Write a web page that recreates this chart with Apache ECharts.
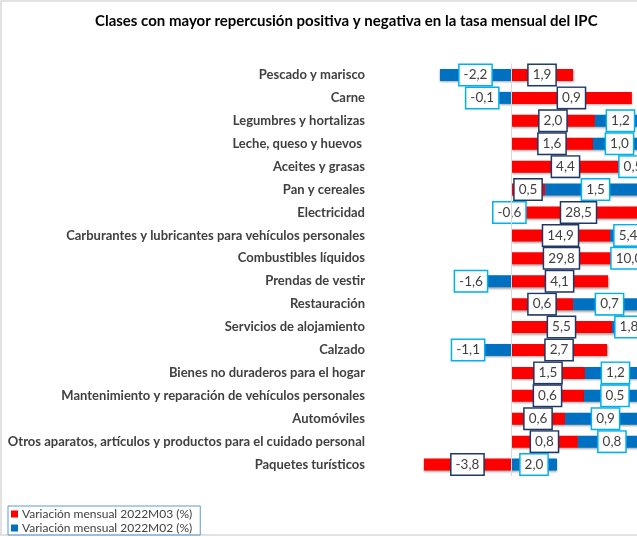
<!DOCTYPE html>
<html>
<head>
<meta charset="utf-8">
<script src="https://cdn.jsdelivr.net/npm/echarts@6/dist/echarts.min.js"></script>
<style>html,body{margin:0;padding:0;background:#fff;overflow:hidden;width:637px;height:537px}#c{width:646px;height:537px}</style>
</head>
<body>
<div id="c"></div>
<script>
// Categories (top to bottom)
var categories = [
  "Pescado y marisco",
  "Carne",
  "Legumbres y hortalizas",
  "Leche, queso y huevos ",
  "Aceites y grasas",
  "Pan y cereales",
  "Electricidad",
  "Carburantes y lubricantes para vehículos personales",
  "Combustibles líquidos",
  "Prendas de vestir",
  "Restauración",
  "Servicios de alojamiento",
  "Calzado",
  "Bienes no duraderos para el hogar",
  "Mantenimiento y reparación de vehículos personales",
  "Automóviles",
  "Otros aparatos, artículos y productos para el cuidado personal",
  "Paquetes turísticos"
];
// Bar lengths (as drawn in the reference, chart units)
var barsM03 = [1.93, 3.76, 2.61, 2.55, 3.39, 1.06, 5.0, 3.08, 3.14, 3.02, 1.93, 3.14, 2.99, 2.30, 2.27, 1.68, 2.08, -2.71];
var barsM02 = [-2.21, -0.37, 2.0, 2.0, 2.0, 3.5, -0.1, 2.0, 2.0, -0.72, 2.6, 2.0, -0.81, 2.3, 2.3, 2.8, 2.5, 1.43];
// Label values (variación mensual, %)
var labelsM03 = [1.9, 0.9, 2.0, 1.6, 4.4, 0.5, 28.5, 14.9, 29.8, 4.1, 0.6, 5.5, 2.7, 1.5, 0.6, 0.6, 0.8, -3.8];
var labelsM02 = [-2.2, -0.1, 1.2, 1.0, 0.5, 1.5, -0.6, 5.4, 10.0, -1.6, 0.7, 1.8, -1.1, 1.2, 0.5, 0.9, 0.8, 2.0];
var seriesNames = ["Variación mensual 2022M03 (%)", "Variación mensual 2022M02 (%)"];

function fmt(v){ return v.toFixed(1).replace('.', ','); }
var leftLabelIdx = {1:true, 9:true, 12:true};

var FONT = 'Lato, "Liberation Sans", sans-serif';
var baseLabel = {
  show: true, position: 'inside', backgroundColor: '#fff', borderWidth: 1.5,
  padding: [3, 4, 2, 4], fontSize: 13.5, lineHeight: 15, color: '#404040',
  fontFamily: FONT
};
var barShadow = {shadowBlur: 2, shadowOffsetY: 1.5, shadowOffsetX: 0.5, shadowColor: 'rgba(0,0,0,0.35)'};

var redData = barsM03.map(function(v){ return {value: v}; });
var blueData = barsM02.map(function(v, i){
  var d = {value: v};
  if (leftLabelIdx[i]) d.label = {position: 'left', distance: 1};
  return d;
});

var chart = echarts.init(document.getElementById('c'), null, {renderer: 'canvas'});
chart.setOption({
  animation: false,
  backgroundColor: '#fff',
  title: {
    text: 'Clases con mayor repercusión positiva y negativa en la tasa mensual del IPC',
    left: 90, top: 9,
    textStyle: {fontFamily: FONT, fontWeight: 'bold', fontSize: 15, color: '#000'}
  },
  legend: {
    orient: 'vertical', left: 8, bottom: 2,
    data: seriesNames,
    icon: 'rect', itemWidth: 7, itemHeight: 7, itemGap: 2,
    borderColor: '#5B9BD5', borderWidth: 1, padding: [2, 8, 1, 3],
    textStyle: {fontSize: 12, color: '#404040', fontFamily: FONT, padding: [0, 0, 0, -1]}
  },
  graphic: [{
    type: 'rect', shape: {x: 1, y: 1, width: 700, height: 534},
    style: {fill: 'none', stroke: '#d9d9d9', lineWidth: 1.5}, silent: true
  }],
  grid: {left: 421, right: 0, top: 63.5, bottom: 61, containLabel: false},
  xAxis: {
    type: 'value', min: -2.8, max: 4.2, show: false
  },
  yAxis: {
    type: 'category', data: categories, inverse: true,
    axisLine: {show: false, onZero: false}, axisTick: {show: false},
    axisLabel: {margin: 56, fontSize: 13, fontWeight: 'bold', color: '#404040', fontFamily: FONT}
  },
  series: [
    {
      name: seriesNames[0], type: 'bar', stack: 'a', barWidth: 12, clip: true,
      itemStyle: Object.assign({color: '#FF0000'}, barShadow),
      label: Object.assign({}, baseLabel, {borderColor: '#203864',
        formatter: function(p){ return fmt(labelsM03[p.dataIndex]); }}),
      data: redData,
      markLine: {
        silent: true, symbol: 'none', label: {show: false},
        lineStyle: {color: '#d9d9d9', type: 'solid', width: 1},
        data: [{xAxis: 0}]
      },
      z: 2
    },
    {
      name: seriesNames[1], type: 'bar', stack: 'a', barWidth: 12, clip: true,
      itemStyle: Object.assign({color: '#0070C0'}, barShadow),
      label: Object.assign({}, baseLabel, {borderColor: '#00B0F0',
        formatter: function(p){ return fmt(labelsM02[p.dataIndex]); }}),
      data: blueData,
      z: 2
    }
  ]
});
</script>
</body>
</html>
